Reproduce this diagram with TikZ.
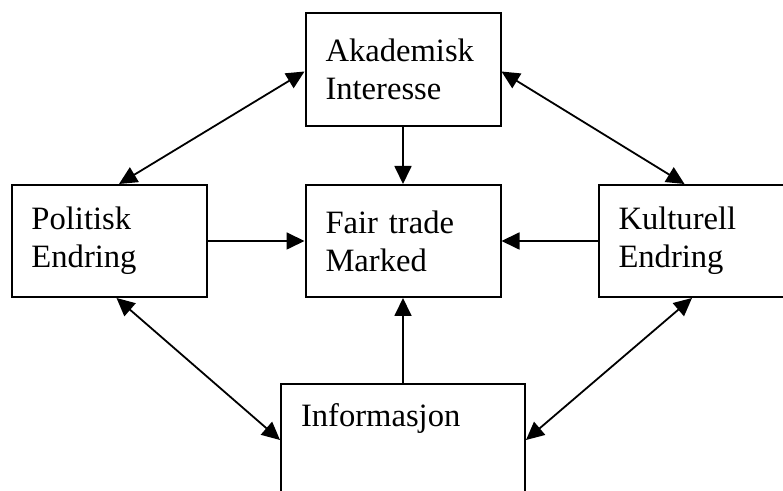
\documentclass[tikz,border=0pt]{standalone}
\usepackage{fontspec}
\setmainfont{Liberation Serif}
\usetikzlibrary{positioning,arrows.meta}
\tikzset{
  box/.style={draw, line width=1pt, rectangle, minimum width=97.5pt, minimum height=56pt,
    text width=77.5pt, inner xsep=10pt, align=left, font=\fontsize{16.3}{19}\selectfont},
  pil/.style={-{Triangle[length=9pt,width=8.5pt]}, line width=0.9pt},
  dobbel/.style={{Triangle[length=9pt,width=8.5pt]}-{Triangle[length=9pt,width=8.5pt]}, line width=0.9pt}
}
\begin{document}
\begin{tikzpicture}[x=0.5pt,y=-0.5pt]
		\useasboundingbox (0,0) rectangle (783,491);
		\node[box] 									(fair) 	at (403,241) {Fair trade\\Marked};
		\node[box, left=48.5pt of fair] 			(pol) 	{Politisk\\Endring};
		\node[box, right=48pt of fair] 				(kul) 	{Kulturell\\Endring};
		\node[box, above=28.5pt of fair, minimum height=56.5pt] (akad) {Akademisk\\Interesse};
		\node[box, below=42.5pt of fair, minimum width=122pt, text width=102pt] (info) {Informasjon\\\strut};
		
		\draw[pil] (pol) -- (fair);
		\draw[pil] (kul) -- (fair);
		\draw[pil] (akad) -- (fair);
		\draw[pil] (info) -- (fair);
		\draw[dobbel] ([xshift=5pt]pol.north) -- ([yshift=-1pt]akad.west);
		\draw[dobbel] ([yshift=-1pt]akad.east) -- ([xshift=-5.75pt]kul.north);
		\draw[dobbel] ([xshift=3.75pt]pol.south) -- (info.west);
		\draw[dobbel] (info.east) -- ([xshift=-2pt]kul.south);
\end{tikzpicture}
\end{document}
